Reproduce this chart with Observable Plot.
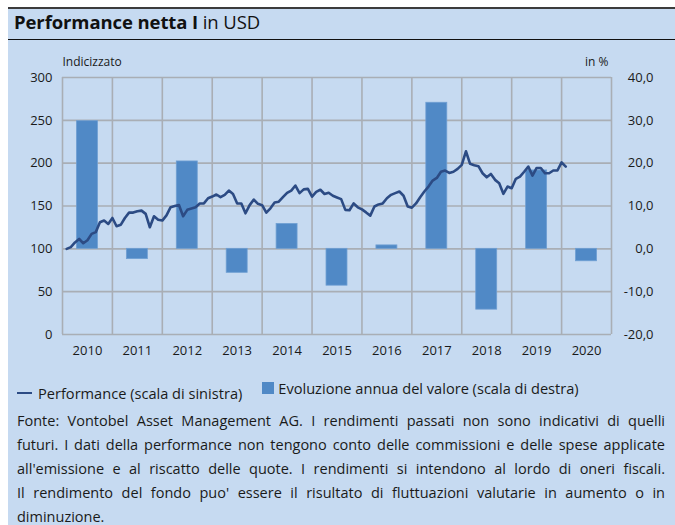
<!DOCTYPE html>
<html>
<head>
<meta charset="utf-8">
<script src="https://cdn.jsdelivr.net/npm/d3@7"></script>
<script src="https://cdn.jsdelivr.net/npm/@observablehq/plot@0.6"></script>
<style>
  html, body { margin: 0; padding: 0; background: #ffffff; width: 675px; height: 525px; overflow: hidden; }
  body { font-family: "Open Sans", Lato, sans-serif; color: #1a1a1a; position: relative; }
  #panel { position: absolute; left: 8px; top: 7px; right: 0; bottom: 0; background: #c6daf1; border-top: 2px solid #3c3c3c; }
  #title { position: absolute; left: 14px; top: 9px; font-size: 18.5px; line-height: 25px; color: #111; white-space: nowrap; letter-spacing: -0.1px; }
  #title b { font-weight: 700; }
  #rule { position: absolute; left: 8px; right: 0; top: 39px; height: 0; border-top: 1.5px solid #111; }
  #chart { position: absolute; left: 0; top: 44px; }
  #chart svg { background: transparent; overflow: visible; }
  #legend { position: absolute; left: 17px; top: 378px; font-size: 14.6px; line-height: 20px; white-space: nowrap; color: #1a1a1a; }
  #legend span.item { display: inline-flex; align-items: center; margin-right: 20px; }
  #legend .sw-line { display: inline-block; width: 15px; height: 0; border-top: 2.5px solid #2c4b84; margin-right: 6px; }
  #legend .sw-box { display: inline-block; width: 12px; height: 12px; background: #5089c6; margin-right: 4px; }
  #caption { position: absolute; left: 17px; width: 648px; top: 409px; font-size: 14.5px; line-height: 24px; color: #1a1a1a; }
  #caption .j { text-align: justify; text-align-last: justify; }
</style>
</head>
<body>
<div id="panel"></div>
<div id="title"><b>Performance netta I</b> in USD</div>
<div id="rule"></div>
<div id="chart"></div>
<div id="legend"></div>
<div id="caption"></div>
<script>
// ---- Data ----
const years = [2010, 2011, 2012, 2013, 2014, 2015, 2016, 2017, 2018, 2019, 2020];
// Annual value change, % (right scale)
const annualChange = [29.8, -2.4, 20.4, -5.6, 5.8, -8.6, 0.8, 34.1, -14.2, 18.3, -2.9];
// Indexed performance, month-end values Jan 2010 .. Jan 2020 (left scale)
const performance = [
  100, 102, 107.5, 111.5, 106.5, 110, 117.5, 119.5, 131, 133, 129, 136,          // 2010
  126.4, 128, 136, 142.3, 142.3, 143.8, 144.6, 140.8, 125.2, 138, 134, 133,      // 2011
  139, 148.6, 150, 151.2, 138, 145.5, 147, 148.6, 153, 153, 159, 161,            // 2012
  163.4, 160.3, 163, 168, 164, 153, 153, 141.5, 151, 157.5, 152.5, 151,          // 2013
  142.3, 147.3, 154, 155, 160.3, 165.3, 168, 173.9, 165, 169.4, 170, 161,        // 2014
  166.5, 169, 164, 165.5, 162, 160, 158, 145.5, 145, 153, 148.5, 146,            // 2015
  142.5, 138.8, 149.4, 151.8, 153, 159, 163, 165, 166.9, 162, 149.4, 148,        // 2016
  153, 160.3, 166.9, 172.7, 179.7, 182.8, 190, 191.4, 188.6, 190, 193.3, 198,    // 2017
  213.9, 199.2, 197.6, 196.5, 188.2, 183.5, 187.4, 180.5, 176.6, 164.2, 172.7, 170.7, // 2018
  181.7, 184.3, 190, 196, 185.5, 194.4, 194.4, 188.2, 188.2, 191.4, 191.4, 201,  // 2019
  196                                                                             // 2020
];
const startYear = 2010;
const leftTicks = [0, 50, 100, 150, 200, 250, 300];
const yearTicks = years;
const seriesNames = ["Performance (scala di sinistra)", "Evoluzione annua del valore (scala di destra)"];
const axisTitles = ["Indicizzato", "in %"];
const captionLines = [
  "Fonte: Vontobel Asset Management AG. I rendimenti passati non sono indicativi di quelli",
  "futuri. I dati della performance non tengono conto delle commissioni e delle spese applicate",
  "all'emissione e al riscatto delle quote. I rendimenti si intendono al lordo di oneri fiscali.",
  "Il rendimento del fondo puo' essere il risultato di fluttuazioni valutarie in aumento o in",
  "diminuzione."
];

// right scale (%) maps onto left scale: 0% <-> 100, 10% <-> 50 units
const pctToLeft = p => 100 + 5 * p;
const leftToPct = v => (v - 100) / 5;

const lineData = performance.map((v, i) => ({ x: startYear + (i + 1) / 12, v }));
const barData = years.map((y, i) => ({ year: y, pct: annualChange[i] }));
const gridX = [...years, years[years.length - 1] + 1];

const gridColor = "#a9aeb5";
const chart = Plot.plot({
  width: 675,
  height: 330,
  marginLeft: 62,
  marginRight: 64,
  marginTop: 33,
  marginBottom: 40,
  style: { fontFamily: "'Open Sans', Lato, sans-serif", fontSize: "13px", color: "#1a1a1a", background: "transparent" },
  x: { domain: [2010, 2021] },
  y: { domain: [0, 300] },
  marks: [
    Plot.ruleY(leftTicks, { stroke: gridColor, strokeWidth: 1.6 }),
    Plot.ruleX(gridX, { stroke: gridColor, strokeWidth: 1.6 }),
    Plot.rect(barData, {
      x1: d => d.year + 0.29,
      x2: d => d.year + 0.71,
      y1: () => pctToLeft(0),
      y2: d => pctToLeft(d.pct),
      fill: "#5089c6",
      stroke: "#6f9fd3",
      strokeWidth: 0.8
    }),
    Plot.line(lineData, { x: "x", y: "v", stroke: "#2c4b84", strokeWidth: 2.6, strokeLinejoin: "round", strokeLinecap: "round" }),
    Plot.axisY({ anchor: "left", ticks: leftTicks, tickSize: 0, tickPadding: 10, label: null, fontSize: 13 }),
    Plot.axisY({ anchor: "right", ticks: leftTicks, tickSize: 0, tickPadding: 42, textAnchor: "end", label: null,
      tickFormat: v => leftToPct(v).toFixed(1).replace(".", ","), fontSize: 13 }),
    Plot.axisX({ anchor: "bottom", ticks: yearTicks.map(y => y + 0.5), tickSize: 0, tickPadding: 11, label: null,
      tickFormat: v => String(Math.floor(v)), fontSize: 13 }),
    Plot.text([axisTitles[0]], { frameAnchor: "top-left", textAnchor: "start", dy: -20, fontSize: 12, fill: "#1a1a1a" }),
    Plot.text([axisTitles[1]], { frameAnchor: "top-right", textAnchor: "end", dy: -20, dx: -3, fontSize: 12, fill: "#1a1a1a" })
  ]
});
document.getElementById("chart").appendChild(chart);

// legend
const lg = document.getElementById("legend");
lg.innerHTML =
  `<span class="item"><span class="sw-line"></span>${seriesNames[0]}</span>` +
  `<span class="item"><span class="sw-box"></span>${seriesNames[1]}</span>`;

// caption
const cap = document.getElementById("caption");
captionLines.forEach((t, i) => {
  const d = document.createElement("div");
  if (i < captionLines.length - 1) d.className = "j";
  d.textContent = t;
  cap.appendChild(d);
});
</script>
</body>
</html>
